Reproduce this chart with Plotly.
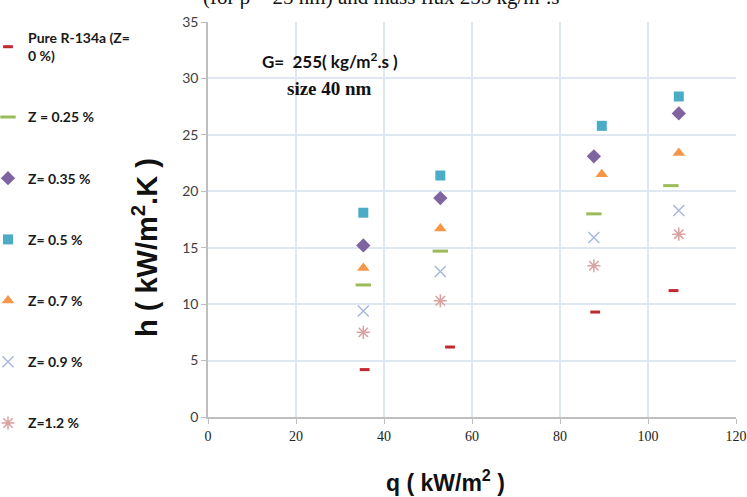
import plotly.graph_objects as go

# Heat flux q (kW/m²) and heat transfer coefficient h (kW/m².K) per concentration
series_names = [
    "Pure R-134a (Z=<br>0 %)",
    "Z = 0.25 %",
    "Z= 0.35 %",
    "Z= 0.5 %",
    "Z= 0.7 %",
    "Z= 0.9 %",
    "Z=1.2 %",
]
q_pure = [35.6, 55.0, 88.0, 105.8]
h_pure = [4.2, 6.2, 9.3, 11.2]
q_z025 = [35.3, 52.8, 87.7, 105.2]
h_z025 = [11.7, 14.7, 18.0, 20.5]
q_z035 = [35.3, 52.8, 87.7, 107.0]
h_z035 = [15.2, 19.4, 23.1, 26.9]
q_z05 = [35.3, 52.8, 89.5, 107.0]
h_z05 = [18.1, 21.4, 25.8, 28.4]
q_z07 = [35.3, 52.8, 89.5, 107.0]
h_z07 = [13.2, 16.7, 21.5, 23.4]
q_z09 = [35.3, 52.8, 87.7, 107.0]
h_z09 = [9.4, 12.9, 15.9, 18.3]
q_z12 = [35.3, 52.8, 87.7, 107.0]
h_z12 = [7.5, 10.3, 13.4, 16.2]

x_ticks = [0, 20, 40, 60, 80, 100, 120]
y_ticks = [0, 5, 10, 15, 20, 25, 30, 35]

xs = [q_pure, q_z025, q_z035, q_z05, q_z07, q_z09, q_z12]
ys = [h_pure, h_z025, h_z035, h_z05, h_z07, h_z09, h_z12]

marker_styles = [
    dict(symbol="line-ew", size=7, color="#c0282d", line=dict(color="#c0282d", width=3)),
    dict(symbol="line-ew", size=11, color="#9bbb59", line=dict(color="#9bbb59", width=3)),
    dict(symbol="diamond", size=11, color="#8064a2", line=dict(width=0)),
    dict(symbol="square", size=10, color="#4bacc6", line=dict(width=0)),
    dict(symbol="triangle-up", size=11, color="#f79646", line=dict(width=0)),
    dict(symbol="x-thin", size=11, color="#a6b9dd", line=dict(color="#a6b9dd", width=1.5)),
    dict(symbol="asterisk", size=11, color="#d9a19f", line=dict(color="#d9a19f", width=1.5)),
]

# plot area in pixels: x 208..736, y 22..417
PL, PR, PT, PB = 208, 736, 22, 417


def px(xp):
    return (xp - PL) / (PR - PL)


def py(yp):
    return (PB - yp) / (PB - PT)


fig = go.Figure()
for i, (name, x, y, mk) in enumerate(zip(series_names, xs, ys, marker_styles)):
    fig.add_trace(go.Scatter(
        x=x, y=y, mode="markers", name=name, marker=mk,
        legendgroup=f"g{i}",
    ))

fig.update_layout(
    width=747, height=497,
    margin=dict(l=PL, r=747 - PR, t=PT, b=497 - PB, autoexpand=False),
    paper_bgcolor="white", plot_bgcolor="white",
    showlegend=True,
    legend=dict(
        xref="paper", yref="paper",
        x=px(-12), y=py(22), xanchor="left", yanchor="top",
        font=dict(family="Lato", size=14, color="#1a1a1a", weight="bold"),
        tracegroupgap=40, bgcolor="rgba(0,0,0,0)", maxheight=490,
    ),
    xaxis=dict(
        range=[0, 120], tickvals=x_ticks, ticks="outside", ticklen=5,
        tickcolor="#bfbfbf", showline=True, linecolor="#bfbfbf", linewidth=1.5,
        showgrid=True, gridcolor="#dfe7f3", gridwidth=1.5, zeroline=False,
        tickfont=dict(family="Liberation Serif", size=14, color="#222222"),
    ),
    yaxis=dict(
        range=[0, 35], tickvals=y_ticks, ticks="outside", ticklen=5,
        tickcolor="#bfbfbf", showline=True, linecolor="#bfbfbf", linewidth=1.5,
        showgrid=True, gridcolor="#dfe7f3", gridwidth=1.5, zeroline=False,
        tickfont=dict(family="Lato", size=14, color="#404040"),
    ),
    annotations=[
        dict(text="(for ρ = 25 nm) and mass flux 255 kg/m².s",
             xref="paper", yref="paper", x=px(381), y=py(-3),
             xanchor="center", yanchor="middle", showarrow=False,
             font=dict(family="Liberation Serif", size=21, color="#111111")),
        dict(text="<b>h ( kW/m<sup>2</sup>.K )</b>",
             xref="paper", yref="paper", x=px(145), y=py(248),
             xanchor="center", yanchor="middle", textangle=-90, showarrow=False,
             font=dict(family="Liberation Sans", size=29, color="#111111")),
        dict(text="<b>q ( kW/m<sup>2</sup> )</b>",
             xref="paper", yref="paper", x=px(445), y=py(481),
             xanchor="center", yanchor="middle", showarrow=False,
             font=dict(family="Liberation Sans", size=23, color="#111111")),
        dict(text="<b>G=  255( kg/m<sup>2</sup>.s )</b>",
             xref="paper", yref="paper", x=px(330), y=py(61),
             xanchor="center", yanchor="middle", showarrow=False,
             font=dict(family="Lato", size=17, color="#111111")),
        dict(text="<b>size 40 nm</b>",
             xref="paper", yref="paper", x=px(329), y=py(88),
             xanchor="center", yanchor="middle", showarrow=False,
             font=dict(family="Liberation Serif", size=19, color="#111111")),
    ],
)

fig.write_html("out.html")
